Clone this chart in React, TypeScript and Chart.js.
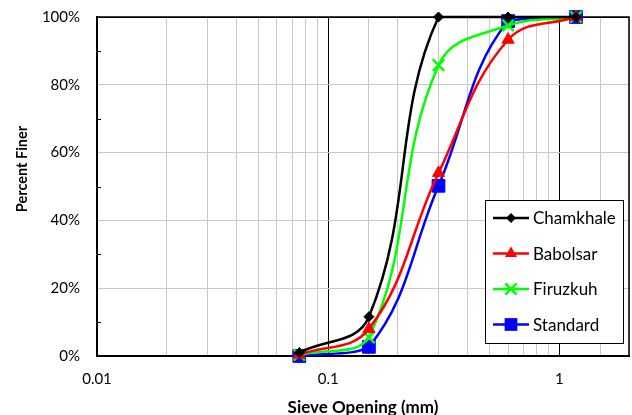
import React, { useEffect, useRef } from "react";
import { Chart, registerables } from "chart.js";

Chart.register(...registerables);

const sieveSizes = [0.075, 0.15, 0.3, 0.6, 1.18];
const chamkhale = [1, 11.6, 100, 100, 100];
const babolsar = [0.4, 8, 54, 93.3, 100];
const firuzkuh = [0.3, 5.5, 85.8, 97.5, 100];
const standard = [0, 2.7, 50.2, 98.8, 100];
const seriesNames = ["Chamkhale", "Babolsar", "Firuzkuh", "Standard"];
const seriesColors = ["#000000", "#ff0000", "#00ff00", "#0000ff"];
const seriesMarkers = ["rectRot", "triangle", "crossRot", "rect"];
const markerRadius = [5, 7, 8, 9];
const xMajorTicks = [0.01, 0.1, 1];
const yMinorTicks = [10, 30, 50, 70, 90];
const xTitle = "Sieve Opening (mm)";
const yTitle = "Percent Finer";

const FONT = "Lato, 'Open Sans', sans-serif";

function isPow10(v: number) {
  const l = Math.log10(v);
  return Math.abs(l - Math.round(l)) < 1e-9;
}

function drawMarker(ctx: CanvasRenderingContext2D, style: string, x: number, y: number, r: number, color: string) {
  ctx.save();
  ctx.fillStyle = color;
  ctx.strokeStyle = color;
  ctx.lineWidth = 2.5;
  ctx.beginPath();
  if (style === "rectRot") {
    ctx.moveTo(x - r, y);
    ctx.lineTo(x, y - r);
    ctx.lineTo(x + r, y);
    ctx.lineTo(x, y + r);
    ctx.closePath();
    ctx.fill();
  } else if (style === "triangle") {
    for (let i = 0; i < 3; i++) {
      const a = (i * 2 * Math.PI) / 3;
      const px = x + Math.sin(a) * r;
      const py = y - Math.cos(a) * r;
      if (i === 0) ctx.moveTo(px, py);
      else ctx.lineTo(px, py);
    }
    ctx.closePath();
    ctx.fill();
  } else if (style === "crossRot") {
    const o = r * Math.SQRT1_2;
    ctx.moveTo(x - o, y - o);
    ctx.lineTo(x + o, y + o);
    ctx.moveTo(x + o, y - o);
    ctx.lineTo(x - o, y + o);
    ctx.stroke();
  } else {
    const s = r * Math.SQRT1_2;
    ctx.rect(x - s, y - s, 2 * s, 2 * s);
    ctx.fill();
  }
  ctx.restore();
}

const framePlugin = {
  id: "frame",
  beforeDatasetsDraw(chart: any) {
    const { ctx, chartArea } = chart;
    const { left, right, top, bottom } = chartArea;
    ctx.save();
    ctx.strokeStyle = "#000";
    ctx.lineWidth = 1.5;
    ctx.beginPath();
    ctx.moveTo(left, top);
    ctx.lineTo(right, top);
    ctx.lineTo(right, bottom);
    ctx.stroke();
    ctx.lineWidth = 1;
    const yScale = chart.scales.y;
    for (const v of yMinorTicks) {
      const py = Math.round(yScale.getPixelForValue(v)) + 0.5;
      ctx.beginPath();
      ctx.moveTo(left, py);
      ctx.lineTo(left + 4, py);
      ctx.stroke();
    }
    ctx.restore();
  },
  afterDraw(chart: any) {
    const { ctx, chartArea } = chart;
    ctx.save();
    ctx.fillStyle = "#000";
    ctx.textAlign = "center";
    ctx.textBaseline = "alphabetic";
    ctx.font = `bold 17px ${FONT}`;
    ctx.fillText(xTitle, (chartArea.left + chartArea.right) / 2, 413);
    ctx.translate(27, 169);
    ctx.rotate(-Math.PI / 2);
    ctx.font = `bold 14.5px ${FONT}`;
    ctx.fillText(yTitle, 0, 0);
    ctx.restore();
  },
};

const legendPlugin = {
  id: "boxLegend",
  afterDraw(chart: any) {
    const { ctx, chartArea } = chart;
    const bx = chartArea.right - 144;
    const by = chartArea.bottom - 156;
    const bw = 138;
    const bh = 143;
    ctx.save();
    ctx.fillStyle = "#fff";
    ctx.fillRect(bx, by, bw, bh);
    ctx.strokeStyle = "#000";
    ctx.lineWidth = 1;
    ctx.strokeRect(bx + 0.5, by + 0.5, bw, bh);
    ctx.font = `17px ${FONT}`;
    ctx.textBaseline = "middle";
    ctx.textAlign = "left";
    seriesNames.forEach((name, i) => {
      const cy = by + 18 + i * 35.5;
      ctx.strokeStyle = seriesColors[i];
      ctx.lineWidth = 2.5;
      ctx.beginPath();
      ctx.moveTo(bx + 8, cy);
      ctx.lineTo(bx + 44, cy);
      ctx.stroke();
      drawMarker(ctx, seriesMarkers[i], bx + 26, cy, markerRadius[i], seriesColors[i]);
      ctx.fillStyle = "#000";
      ctx.fillText(name, bx + 48, cy + 1);
    });
    ctx.restore();
  },
};

export default function App() {
  const ref = useRef<HTMLCanvasElement>(null);
  useEffect(() => {
    document.body.style.margin = "0";
    const values = [chamkhale, babolsar, firuzkuh, standard];
    const chart = new Chart(ref.current as HTMLCanvasElement, {
      type: "line",
      data: {
        datasets: seriesNames.map((name, i) => ({
          label: name,
          data: sieveSizes.map((x, j) => ({ x, y: values[i][j] })),
          borderColor: seriesColors[i],
          backgroundColor: seriesColors[i],
          pointBorderColor: seriesColors[i],
          pointBackgroundColor: seriesColors[i],
          pointStyle: seriesMarkers[i] as any,
          pointRadius: markerRadius[i],
          pointBorderWidth: seriesMarkers[i] === "crossRot" ? 2.5 : 1,
          borderWidth: 2.5,
          tension: 0.4,
          fill: false,
          clip: false as any,
        })),
      },
      options: {
        animation: false,
        responsive: false,
        maintainAspectRatio: false,
        layout: { autoPadding: false, padding: { top: 17, right: 3, left: 0, bottom: 0 } },
        plugins: { legend: { display: false }, tooltip: { enabled: false } },
        scales: {
          x: {
            type: "logarithmic",
            min: 0.01,
            max: 2,
            afterFit: (s: any) => {
              s.height = 59;
              s.paddingLeft = 0;
              s.paddingRight = 0;
            },
            grid: {
              drawTicks: false,
              color: (c: any) => (c.tick && isPow10(c.tick.value) ? "#000" : "#c8c8c8"),
              lineWidth: 1,
            },
            border: { color: "#000", width: 2 },
            ticks: {
              autoSkip: false,
              maxRotation: 0,
              padding: 14,
              color: "#000",
              font: { family: FONT, size: 15 },
              callback: (v: any) => {
                const n = Number(v);
                return xMajorTicks.some((t) => Math.abs(t - n) < 1e-9) ? String(n) : "";
              },
            },
            title: { display: false },
          },
          y: {
            type: "linear",
            min: 0,
            max: 100,
            afterFit: (s: any) => {
              s.width = 97;
              s.paddingTop = 0;
              s.paddingBottom = 0;
            },
            grid: {
              drawTicks: false,
              color: (c: any) => (c.tick && c.tick.value === 100 ? "#000" : "#c8c8c8"),
              lineWidth: 1,
            },
            border: { color: "#000", width: 2 },
            ticks: {
              stepSize: 20,
              padding: 17,
              color: "#000",
              font: { family: FONT, size: 15 },
              callback: (v: any) => `${v}%`,
            },
            title: { display: false },
          },
        },
      },
      plugins: [framePlugin, legendPlugin],
    });
    return () => chart.destroy();
  }, []);
  return (
    <div style={{ width: 632, height: 415 }}>
      <canvas ref={ref} width={632} height={415} style={{ display: "block" }} />
    </div>
  );
}
